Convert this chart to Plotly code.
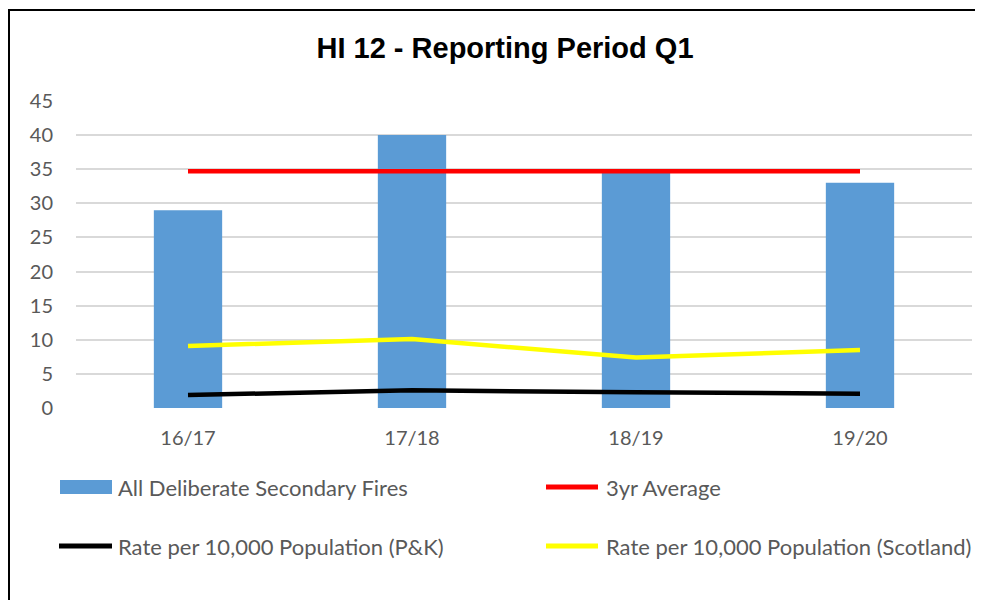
import plotly.graph_objects as go

# ---- data ----
categories = ["16/17", "17/18", "18/19", "19/20"]
all_deliberate_secondary_fires = [29, 40, 35, 33]
three_yr_average = [34.7, 34.7, 34.7, 34.7]
rate_pk = [1.9, 2.6, 2.3, 2.1]
rate_scotland = [9.1, 10.1, 7.4, 8.5]
y_ticks = [0, 5, 10, 15, 20, 25, 30, 35, 40, 45]

series_names = [
    "All Deliberate Secondary Fires",
    "3yr Average",
    "Rate per 10,000 Population (P&K)",
    "Rate per 10,000 Population (Scotland)",
]

# ---- layout geometry (pixels, page coordinates; page body has 8px margin) ----
OFF = 8
W, H = 989 - OFF, 600 - OFF
L, T = 76 - OFF, 101 - OFF
R = (OFF + W) - 972
B = (OFF + H) - 408
PW, PH = W - L - R, H - T - B

def px(x):
    return (x - OFF - L) / PW

def py(y):
    return (H - B - (y - OFF)) / PH

TEXT = "#595959"
FONT = "Lato, 'Open Sans', sans-serif"

fig = go.Figure()
fig.add_trace(go.Bar(x=categories, y=all_deliberate_secondary_fires, name=series_names[0],
                     marker=dict(color="#5B9BD5", line=dict(width=0)), width=0.305))
fig.add_trace(go.Scatter(x=categories, y=three_yr_average, name=series_names[1], mode="lines",
                         line=dict(color="#FF0000", width=4.5)))
fig.add_trace(go.Scatter(x=categories, y=rate_pk, name=series_names[2], mode="lines",
                         line=dict(color="#000000", width=4.5)))
fig.add_trace(go.Scatter(x=categories, y=rate_scotland, name=series_names[3], mode="lines",
                         line=dict(color="#FFFF00", width=4.5)))

shapes = []
annotations = []

# outer chart border: left edge and top edge (top edge stops short of the page edge)
shapes.append(dict(type="line", xref="paper", yref="paper",
                   x0=px(9), x1=px(9), y0=py(9), y1=py(610),
                   line=dict(color="#000000", width=2), layer="below"))
shapes.append(dict(type="line", xref="paper", yref="paper",
                   x0=px(8), x1=px(975), y0=py(10), y1=py(10),
                   line=dict(color="#000000", width=2), layer="below"))

# manual legend
legend_items = [
    (series_names[0], "rect", "#5B9BD5", 60, 112, 487, 116),
    (series_names[1], "line", "#FF0000", 546, 598, 487, 604),
    (series_names[2], "line", "#000000", 59, 112, 546, 116),
    (series_names[3], "line", "#FFFF00", 546, 598, 546, 604),
]
for name, kind, color, x0, x1, yc, tx in legend_items:
    if kind == "rect":
        shapes.append(dict(type="rect", xref="paper", yref="paper",
                           x0=px(x0), x1=px(x1), y0=py(yc - 7), y1=py(yc + 7),
                           fillcolor=color, line=dict(width=0)))
    else:
        shapes.append(dict(type="line", xref="paper", yref="paper",
                           x0=px(x0), x1=px(x1), y0=py(yc), y1=py(yc),
                           line=dict(color=color, width=5)))
    annotations.append(dict(text=name, xref="paper", yref="paper", x=px(tx), y=py(yc),
                            xanchor="left", yanchor="middle", showarrow=False,
                            font=dict(family=FONT, size=22, color=TEXT)))

fig.update_layout(
    width=W, height=H,
    margin=dict(l=L, r=R, t=T, b=B),
    paper_bgcolor="white", plot_bgcolor="white",
    showlegend=False,
    title=dict(text="<b>HI 12 - Reporting Period Q1</b>", x=(505 - OFF) / W, xref="container",
               xanchor="center", y=1 - (48 - OFF) / H, yref="container", yanchor="middle",
               font=dict(family="Liberation Sans, Arial, sans-serif", size=29, color="#000000")),
    font=dict(family=FONT, size=20, color=TEXT),
    xaxis=dict(type="category", showgrid=False, zeroline=False, showline=False,
               ticks="", ticklabelstandoff=16, tickfont=dict(family=FONT, size=20, color=TEXT)),
    yaxis=dict(range=[0, 45], tickvals=y_ticks, showgrid=True, gridcolor="#D9D9D9", gridwidth=1.5,
               zeroline=False, showline=False, ticks="", ticklabelstandoff=22,
               tickfont=dict(family=FONT, size=20, color=TEXT)),
    shapes=shapes,
    annotations=annotations,
)

fig.write_html("out.html")
